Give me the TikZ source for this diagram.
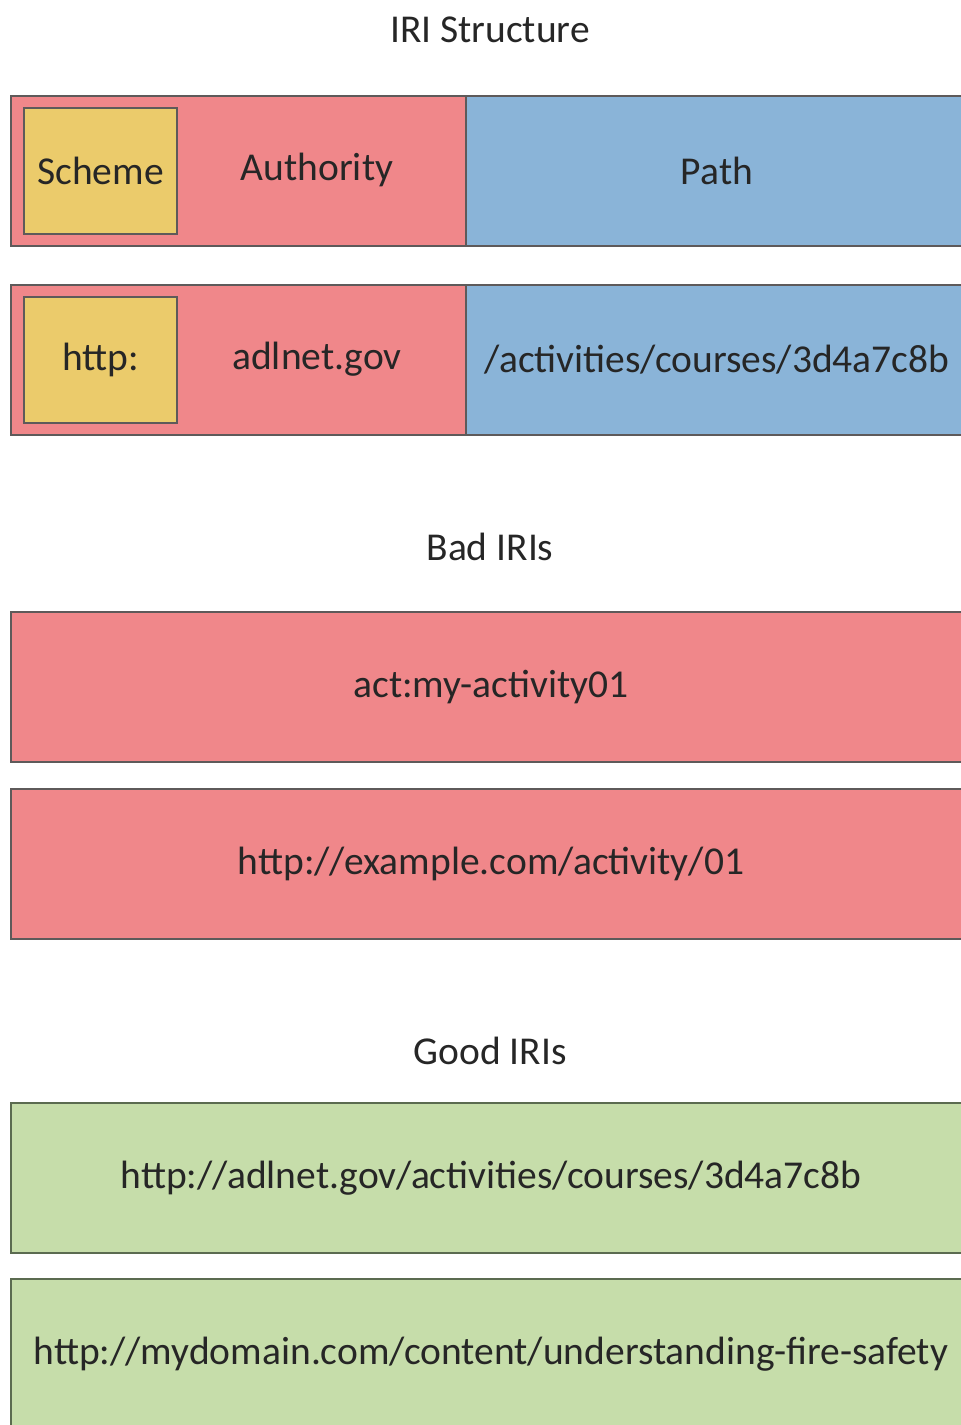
\documentclass[tikz,border=0pt]{standalone}
\usepackage{fontspec}
\setmainfont{Carlito}
\usetikzlibrary{calc,positioning}
\definecolor{iriRed}{HTML}{F0878A}
\definecolor{iriBlue}{HTML}{8AB4D8}
\definecolor{iriYellow}{HTML}{EBCB6B}
\definecolor{iriGreen}{HTML}{C6DDAA}
\definecolor{iriLine}{HTML}{5E5A5A}
\definecolor{iriGreenLine}{HTML}{5B6B50}
\definecolor{iriText}{HTML}{262626}
\begin{document}
\begin{tikzpicture}[x=1pt,y=-1pt,font=\fontsize{39.5}{46}\selectfont,text=iriText,
            part/.style={draw=iriLine, line width=2pt, anchor=north west, inner sep=0pt,
            minimum height=150pt},
            badbox/.style={part, fill=iriRed, minimum width=960pt},
            goodbox/.style={part, draw=iriGreenLine, fill=iriGreen, minimum width=960pt},
            schemebox/.style={part, fill=iriYellow, minimum width=153pt, minimum height=126pt}]
            \useasboundingbox (0,0) rectangle (961,1425);
            \clip (0,0) rectangle (961,1425);

            % IRI structure
            \node (title) at (490,30) {IRI Structure};
            \node[part, fill=iriRed, minimum width=455pt] (auth) at (10,95) {};
            \node[part, fill=iriBlue, minimum width=502pt] (path) at (465,95) {Path};
            \node[schemebox] (scheme) at (23,107) {Scheme};
            \node (authtext) at (317,170) {Authority};

            \node[part, fill=iriRed, minimum width=455pt] (exauth) at (10,284) {};
            \node[part, fill=iriBlue, minimum width=502pt] (expath) at (465,284) {/activities/courses/3d4a7c8b};
            \node[schemebox] (exscheme) at (23,296) {http:};
            \node (exauthtext) at (317,359) {adlnet.gov};

            % bad
            \node (bad) at (490,547) {Bad IRIs};
            \node[badbox] (bad1) at (10,611) {act:my-activity01};
            \node[badbox] (bad2) at (10,788) {http://example.com/activity/01};

            % good
            \node (good) at (490,1051) {Good IRIs};
            \node[goodbox] (good1) at (10,1102) {http://adlnet.gov/activities/courses/3d4a7c8b};
            \node[goodbox] (good2) at (10,1278) {http://mydomain.com/content/understanding-fire-safety};
        \end{tikzpicture}
\end{document}
